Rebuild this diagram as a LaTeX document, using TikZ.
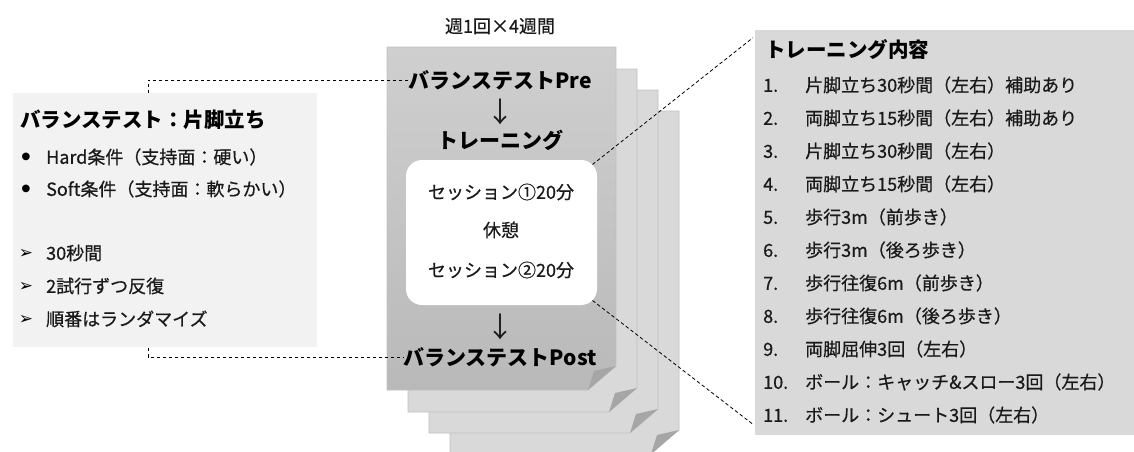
\documentclass[tikz,border=0pt]{standalone}
\usepackage{fontspec}
\setmainfont{Noto Sans CJK JP}
\newfontfamily\bodyfont{Noto Sans CJK JP}[FakeBold=0.6]
\newfontfamily\symfont{DejaVu Sans}
\usetikzlibrary{calc}
\definecolor{leftfill}{HTML}{F2F2F2}
\definecolor{rightfill}{HTML}{D9D9D9}
\definecolor{pagefill}{HTML}{D9D9D9}
\definecolor{pageline}{HTML}{C0C0C0}
\definecolor{foldcol}{HTML}{A6A6A6}
\definecolor{fronttop}{HTML}{CFCFCF}
\definecolor{frontbot}{HTML}{B9B9B9}
\definecolor{txt}{HTML}{1A1A1A}
\tikzset{
  body/.style={font=\bodyfont\fontsize{18}{20}\selectfont, text=txt, inner sep=0pt, text height=15.8pt, text depth=2.2pt},
  downarrow/.style={font=\fontsize{28}{30}\selectfont, text=txt, inner sep=0pt},
  head/.style={font=\fontsize{21}{24}\selectfont\bfseries, text=black, inner sep=0pt, text height=18.5pt, text depth=2.5pt},
  lhead/.style={font=\fontsize{20.5}{23}\selectfont\bfseries, text=black, inner sep=0pt, text height=18pt, text depth=2.5pt},
  bul/.style={font=\symfont\fontsize{10}{12}\selectfont, text=black, inner sep=0pt},
  arr/.style={font=\symfont\fontsize{17}{18}\selectfont, text=black, inner sep=0pt},
  panel/.style={inner sep=0pt, draw=none},
  conn/.style={draw=black, dash pattern=on 3.5pt off 2.5pt, line width=0.8pt},
}
\newcommand{\mypagesheet}[3]{%
  \path[#3, draw=pageline, line width=0.6pt] (#1,#2) -- ++(229,0) -- ++(0,319) -- ++(-28,24) -- ++(-201,0) -- cycle;
  \fill[foldcol] (#1,#2) ++(229,319) -- ++(-28,24) -- ++(6,-19) -- cycle;
}
\begin{document}
\begin{tikzpicture}[x=1pt,y=-1pt]
\useasboundingbox (0,0) rectangle (1134,451);
% stacked pages
\mypagesheet{450}{111}{fill=pagefill}
\mypagesheet{429}{90}{fill=pagefill}
\mypagesheet{408}{69}{fill=pagefill}
\mypagesheet{387}{47}{top color=fronttop, bottom color=frontbot}
% centre texts
\node[body] (freq) at (500,26) {週1回×4週間};
\node[head] (pre) at (500,80) {バランステストPre};
\node[downarrow] (d1) at (500,112) {↓};
\node[head] (trn) at (500,140) {トレーニング};
\node[panel, fill=white, rounded corners=16pt, minimum width=191pt, minimum height=145pt] (sess) at (501.5,232.5) {};
\node[body] (s1) at (501,192) {セッション①20分};
\node[body] (s2) at (501,230) {休憩};
\node[body] (s3) at (501,270) {セッション②20分};
\node[downarrow] (d2) at (500,327) {↓};
\node[head] (post) at (500,357) {バランステストPost};
% left bracket
\coordinate (lt) at (148,82);
\coordinate (lb) at (148,362);
\draw[conn] (pre.west) -- (pre.west -| lt) -- (lb |- post.west) -- (post.west);
% left panel
\node[panel, fill=leftfill, minimum width=304pt, minimum height=254pt] (lbox) at (165,220) {};
\node[lhead, anchor=west] (ltitle) at (20,120) {バランステスト：片脚立ち};
\node[bul] (b1) at (26,157) {●};
\node[body, anchor=west] (t1) at (46,157) {Hard条件（支持面：硬い）};
\node[bul] (b2) at (26,189) {●};
\node[body, anchor=west] (t2) at (46,189) {Soft条件（支持面：軟らかい）};
\node[arr] (r1) at (26,254) {➢};
\node[body, anchor=west] (u1) at (46,253) {30秒間};
\node[arr] (r2) at (26,287) {➢};
\node[body, anchor=west] (u2) at (46,286) {2試行ずつ反復};
\node[arr] (r3) at (26,320) {➢};
\node[body, anchor=west] (u3) at (46,319) {順番はランダマイズ};
% right panel
\node[panel, fill=rightfill, minimum width=379pt, minimum height=405pt] (rbox) at (944.5,232.5) {};
\node[lhead, anchor=west] (rtitle) at (765,50) {トレーニング内容};
\foreach \n/\t [count=\i] in {
  1./片脚立ち30秒間（左右）補助あり,
  2./両脚立ち15秒間（左右）補助あり,
  3./片脚立ち30秒間（左右）,
  4./両脚立ち15秒間（左右）,
  5./歩行3m（前歩き）,
  6./歩行3m（後ろ歩き）,
  7./歩行往復6m（前歩き）,
  8./歩行往復6m（後ろ歩き）,
  9./両脚屈伸3回（左右）,
  10./ボール：キャッチ\&スロー3回（左右）,
  11./ボール：シュート3回（左右）}{
  \node[body, anchor=west] (num\i) at (763,{85+33*(\i-1)}) {\n};
  \node[body, anchor=west] (item\i) at (805,{85+33*(\i-1)}) {\t};
}
% connectors to training content
\coordinate (sne) at ($(sess.north east)+(-4.7,4.7)$);
\coordinate (sse) at ($(sess.south east)+(-4.7,-4.7)$);
\coordinate (rt) at ($(rbox.north west)+(-2,8)$);
\coordinate (rb) at ($(rbox.south west)+(-2,-11)$);
\draw[conn] (sne) -- (rt);
\draw[conn] (sse) -- (rb);
\end{tikzpicture}
\end{document}
